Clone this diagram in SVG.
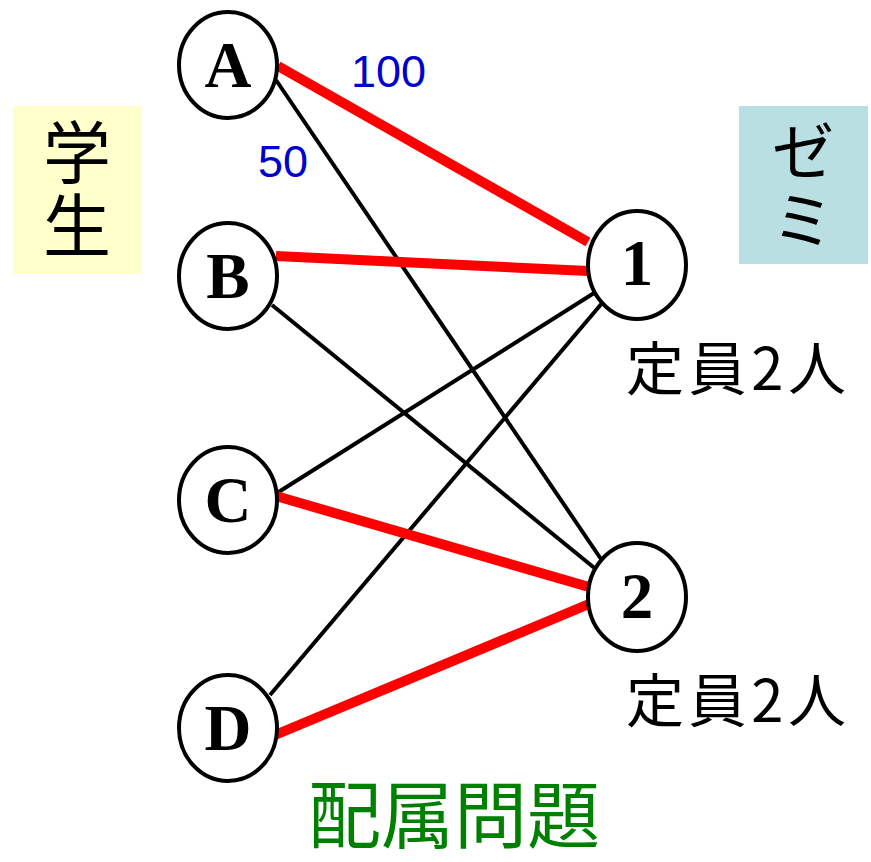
<svg xmlns="http://www.w3.org/2000/svg" width="871" height="862" viewBox="0 0 871 862">
<style>
.node{fill:#fff;stroke:#000;stroke-width:4}
.nl{font-family:"Liberation Serif","Times New Roman",serif;font-weight:bold;font-size:65px;text-anchor:middle;fill:#000}
.red{stroke:#ff0000;stroke-width:10;fill:none}
.blk{stroke:#000;stroke-width:4;fill:none}
.jp{font-family:"Noto Sans CJK JP","Liberation Sans",sans-serif;fill:#000}
.vt{writing-mode:vertical-rl;letter-spacing:5px}
.w{font-family:"Liberation Sans",Arial,sans-serif;font-size:45px;fill:#0000cc}
</style>
<rect id="gakusei-box" x="13" y="106" width="129" height="168" fill="#ffffcc"/>
<text id="gakusei-label" class="jp vt" font-size="68" x="77" y="118">学生</text>
<rect id="zemi-box" x="739" y="106" width="129" height="158" fill="#b9dfe3"/>
<text id="zemi-label" class="jp vt" font-size="64" x="803" y="119">ゼミ</text>
<g id="connectors">
<line class="blk" x1="276" y1="80" x2="603" y2="562"/>
<line class="blk" x1="272" y1="305" x2="603" y2="575"/>
<line class="blk" x1="277" y1="493" x2="602" y2="288"/>
<line class="blk" x1="270" y1="695" x2="603" y2="302"/>
<line class="red" x1="278" y1="66" x2="588" y2="242"/>
<line class="red" x1="276" y1="256" x2="588" y2="271"/>
<line class="red" x1="276" y1="496" x2="589" y2="587"/>
<line class="red" x1="275" y1="735" x2="589" y2="604"/>
</g>
<g id="weights">
<text class="w" x="351" y="87">100</text>
<text class="w" x="258" y="177">50</text>
</g>
<g id="node-A"><ellipse class="node" cx="228" cy="65" rx="49" ry="53"/><text class="nl" x="228" y="87">A</text></g>
<g id="node-B"><ellipse class="node" cx="228" cy="276" rx="49" ry="53"/><text class="nl" x="228" y="298">B</text></g>
<g id="node-C"><ellipse class="node" cx="228" cy="500" rx="49" ry="53"/><text class="nl" x="228" y="522">C</text></g>
<g id="node-D"><ellipse class="node" cx="228" cy="728" rx="49" ry="53"/><text class="nl" x="228" y="750">D</text></g>
<g id="node-1"><ellipse class="node" cx="637" cy="265" rx="49" ry="54"/><text class="nl" x="637" y="285">1</text></g>
<g id="node-2"><ellipse class="node" cx="637" cy="597" rx="49" ry="54"/><text class="nl" x="637" y="618">2</text></g>
<g id="capacity">
<text class="jp" font-size="58" x="626" y="390" textLength="220" lengthAdjust="spacing">定員2人</text>
<text class="jp" font-size="58" x="626" y="722" textLength="220" lengthAdjust="spacing">定員2人</text>
</g>
<text id="title" class="jp" font-size="73" x="454" y="842" text-anchor="middle" style="fill:#008000">配属問題</text>
</svg>
